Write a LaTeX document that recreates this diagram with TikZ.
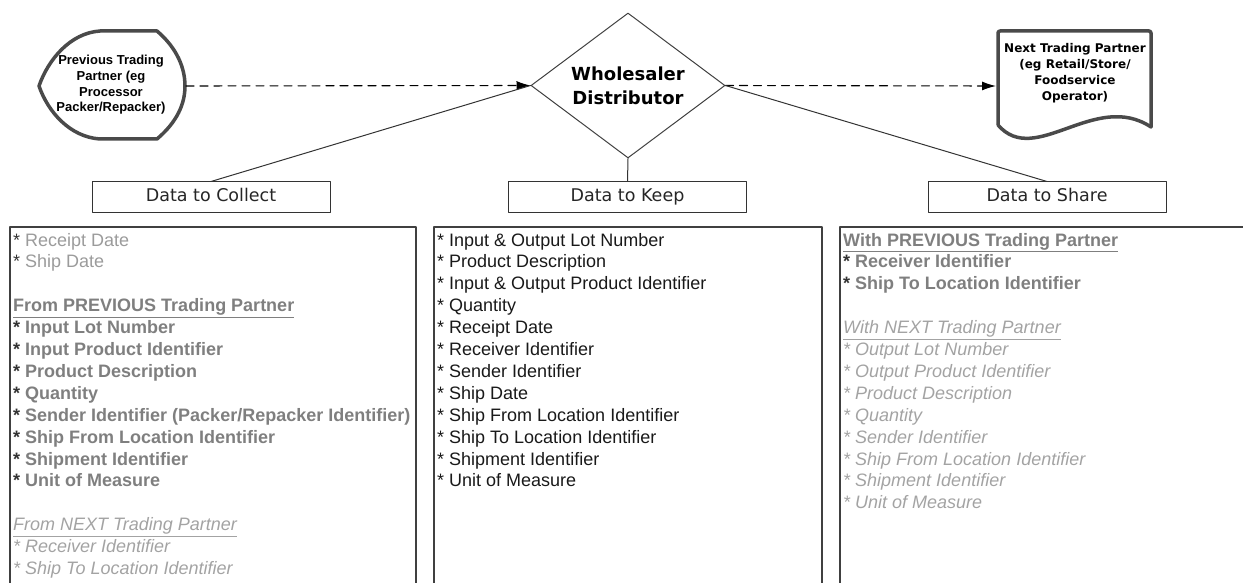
\documentclass[tikz,border=0pt]{standalone}
\usepackage{fontspec}
\setmainfont{Liberation Sans}
\newfontfamily\tahoma{DejaVu Sans}
\usetikzlibrary{shapes.geometric,arrows.meta}
\definecolor{edge}{HTML}{4A4A4A}
\definecolor{softgray}{HTML}{9B9B9B}
\definecolor{midgray}{HTML}{7F7F7F}
\definecolor{palegray}{HTML}{A3A3A3}
\newcommand{\itemstar}{\textcolor{black!80}{*}\ }
\begin{document}
\begin{tikzpicture}[x=1pt, y=-1pt, line join=round, line cap=round,
	partner/.style={draw=edge, line width=3.5pt},
	flow/.style={dashed, dash pattern=on 8pt off 6pt, line width=1.1pt, -{Latex[length=14pt,width=9pt]}},
	link/.style={draw=black!80, line width=1pt},
	head/.style={draw=black!80, line width=1pt, minimum width=238, minimum height=30, inner sep=0, text height=13pt, text depth=3.5pt, text=black!85, font=\tahoma\fontsize{17.5}{20}\selectfont},
	frame/.style={draw=black!75, line width=1.2pt},
	lst/.style={anchor=base west, inner sep=0, font=\fontsize{18}{22}\selectfont},
	softtxt/.style={lst, text=softgray},
	boldtxt/.style={lst, text=midgray, font=\fontsize{18}{22}\selectfont\bfseries},
	itaxt/.style={lst, text=palegray, font=\fontsize{18}{22}\selectfont\itshape},
	keeptxt/.style={lst, text=black!90}]
	\useasboundingbox (0,0) rectangle (1243,583);
	\clip (0,0) rectangle (1243,583);
	% trading partners
	\draw[partner] (100,31) -- (157,31) .. controls (177,48) and (185,68) .. (185,86)
		.. controls (185,104) and (177,122) .. (157,139) -- (100,139)
		.. controls (70,137) and (48,112) .. (39,86) .. controls (48,60) and (70,33) .. (100,31) -- cycle;
	\node[align=center, font=\bfseries\fontsize{13}{15.7}\selectfont] (prev) at (111,85)
		{Previous Trading\\Partner (eg\\Processor\\Packer/Repacker)};
	\draw[partner, rounded corners=2pt] (998,125) -- (998,31) -- (1151,31) -- (1151,127);
	\draw[partner] (998,125) .. controls (1035,168) and (1095,90) .. (1151,127);
	\node[align=center, font=\tahoma\bfseries\fontsize{12}{16}\selectfont] (next) at (1075,73)
		{Next Trading Partner\\(eg Retail/Store/\\Foodservice\\Operator)};
	\path (186,86) coordinate (prev-e) (996,86) coordinate (next-w);
	% wholesaler
	\node[diamond, draw=black!75, line width=1pt, aspect=1.34, inner sep=0, minimum width=194,
		minimum height=145, align=center, font=\tahoma\bfseries\fontsize{18}{24}\selectfont] (dist) at (628,85.5)
		{Wholesaler\\Distributor};
	\draw[flow] (prev-e) -- (dist.west);
	\draw[flow] (dist.east) -- (next-w);
	\node[head] (collect) at (211,197) {Data to Collect};
	\node[head] (keep) at (627.5,197) {Data to Keep};
	\node[head] (share) at (1047,197) {Data to Share};
	\draw[link] (dist.west) -- (collect.north) (dist.south) -- (keep.north) (dist.east) -- (share.north);
	\draw[frame] (10,227) rectangle (416,600) (434,227) rectangle (822,600) (840,227) rectangle (1260,600);
	% data to collect
	\foreach \t [count=\i] in {Receipt Date, Ship Date}
		\node[softtxt] (col-a\i) at (13,{246+21.9*(\i-1)}) {\itemstar\t};
	\node[boldtxt] (col-h1) at (13,{246+21.9*3}) {\underline{From PREVIOUS Trading Partner}};
	\foreach \t [count=\i from 5] in {Input Lot Number, Input Product Identifier, Product Description, Quantity,
		Sender Identifier (Packer/Repacker Identifier), Ship From Location Identifier, Shipment Identifier, Unit of Measure}
		\node[boldtxt] (col-b\i) at (13,{246+21.9*(\i-1)}) {\itemstar\t};
	\node[itaxt] (col-h2) at (13,{246+21.9*13}) {\underline{From NEXT Trading Partner}};
	\foreach \t [count=\i from 15] in {Receiver Identifier, Ship To Location Identifier}
		\node[itaxt] (col-c\i) at (13,{246+21.9*(\i-1)}) {* \t};
	% data to keep
	\foreach \t [count=\i] in {Input \& Output Lot Number, Product Description, Input \& Output Product Identifier,
		Quantity, Receipt Date, Receiver Identifier, Sender Identifier, Ship Date, Ship From Location Identifier,
		Ship To Location Identifier, Shipment Identifier, Unit of Measure}
		\node[keeptxt] (keep-\i) at (437,{246+21.9*(\i-1)}) {* \t};
	% data to share
	\node[boldtxt] (share-h1) at (843,246) {\underline{With PREVIOUS Trading Partner}};
	\foreach \t [count=\i from 2] in {Receiver Identifier, Ship To Location Identifier}
		\node[boldtxt] (share-a\i) at (843,{246+21.9*(\i-1)}) {\itemstar\t};
	\node[itaxt] (share-h2) at (843,{246+21.9*4}) {\underline{With NEXT Trading Partner}};
	\foreach \t [count=\i from 6] in {Output Lot Number, Output Product Identifier, Product Description, Quantity,
		Sender Identifier, Ship From Location Identifier, Shipment Identifier, Unit of Measure}
		\node[itaxt] (share-b\i) at (843,{246+21.9*(\i-1)}) {* \t};
\end{tikzpicture}
\end{document}
